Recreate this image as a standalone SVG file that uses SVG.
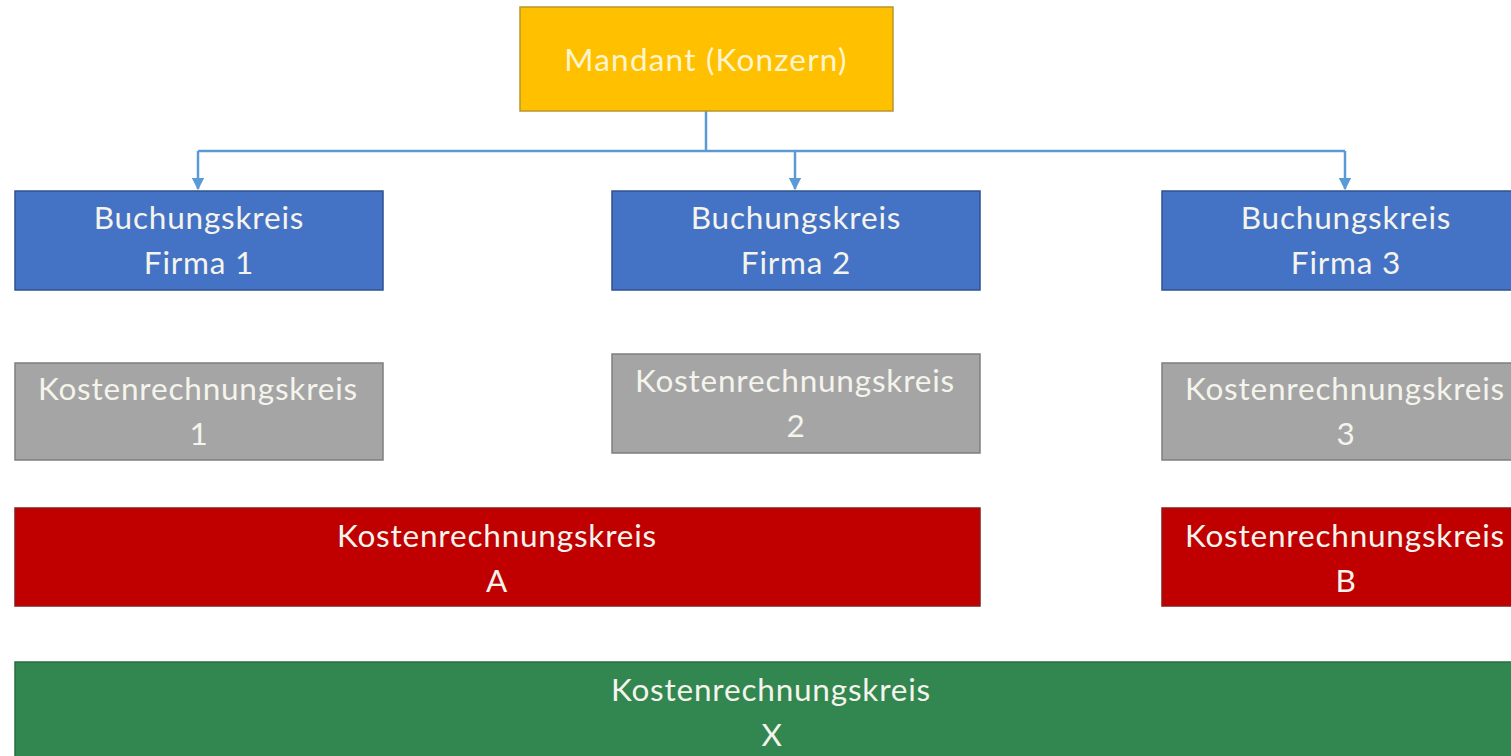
<svg xmlns="http://www.w3.org/2000/svg" width="1511" height="756" viewBox="0 0 1511 756">
<defs>
<style>
text{font-family:Lato,"Open Sans","Liberation Sans",sans-serif;font-size:31.5px;letter-spacing:0.8px;fill:#F4F4EC;text-anchor:middle}
.m{letter-spacing:1.2px;fill:#FFF4D0}
.y{fill:#FFC000;stroke:#B8962E;stroke-width:1.5}
.b{fill:#4472C4;stroke:#2F528F;stroke-width:1.5}
.g{fill:#A5A5A5;stroke:#7F7F7F;stroke-width:1.5}
.r{fill:#C00000;stroke:#8B1A1A;stroke-width:1.5}
.gr{fill:#328650;stroke:#2A6E42;stroke-width:1.5}
.c{fill:none;stroke:#5B9BD5;stroke-width:2.5}
</style>
<marker id="ah" viewBox="0 0 10 10" refX="9" refY="5" markerWidth="5" markerHeight="5" orient="auto" markerUnits="strokeWidth">
<path d="M0,0 L10,5 L0,10 z" fill="#5B9BD5"/>
</marker>
</defs>
<rect width="1511" height="756" fill="#FFFFFF"/>
<g id="connectors">
<path class="c" d="M706,111 V151"/>
<path class="c" d="M198,151 H1345"/>
<path class="c" d="M198,151 V189" marker-end="url(#ah)"/>
<path class="c" d="M795,151 V189" marker-end="url(#ah)"/>
<path class="c" d="M1345,151 V189" marker-end="url(#ah)"/>
</g>
<g id="mandant">
<rect class="y" x="520" y="7" width="373" height="104"/>
<text class="m" x="706" y="71">Mandant (Konzern)</text>
</g>
<g id="bk1">
<rect class="b" x="15" y="191" width="368" height="99"/>
<text x="199" y="229">Buchungskreis</text>
<text x="199" y="274">Firma 1</text>
</g>
<g id="bk2">
<rect class="b" x="612" y="191" width="368" height="99"/>
<text x="796" y="229">Buchungskreis</text>
<text x="796" y="274">Firma 2</text>
</g>
<g id="bk3">
<rect class="b" x="1162" y="191" width="360" height="99"/>
<text x="1346" y="229">Buchungskreis</text>
<text x="1346" y="274">Firma 3</text>
</g>
<g id="kr1">
<rect class="g" x="15" y="363" width="368" height="97"/>
<text x="198" y="400">Kostenrechnungskreis</text>
<text x="199" y="445">1</text>
</g>
<g id="kr2">
<rect class="g" x="612" y="354" width="368" height="99"/>
<text x="795" y="392">Kostenrechnungskreis</text>
<text x="796" y="437">2</text>
</g>
<g id="kr3">
<rect class="g" x="1162" y="363" width="360" height="97"/>
<text x="1345" y="400">Kostenrechnungskreis</text>
<text x="1346" y="445">3</text>
</g>
<g id="krA">
<rect class="r" x="15" y="508" width="965" height="98"/>
<text x="497" y="547">Kostenrechnungskreis</text>
<text x="497" y="592">A</text>
</g>
<g id="krB">
<rect class="r" x="1162" y="508" width="360" height="98"/>
<text x="1345" y="547">Kostenrechnungskreis</text>
<text x="1346" y="592">B</text>
</g>
<g id="krX">
<rect class="gr" x="15" y="662" width="1510" height="100"/>
<text x="771" y="701">Kostenrechnungskreis</text>
<text x="772" y="746">X</text>
</g>
</svg>
